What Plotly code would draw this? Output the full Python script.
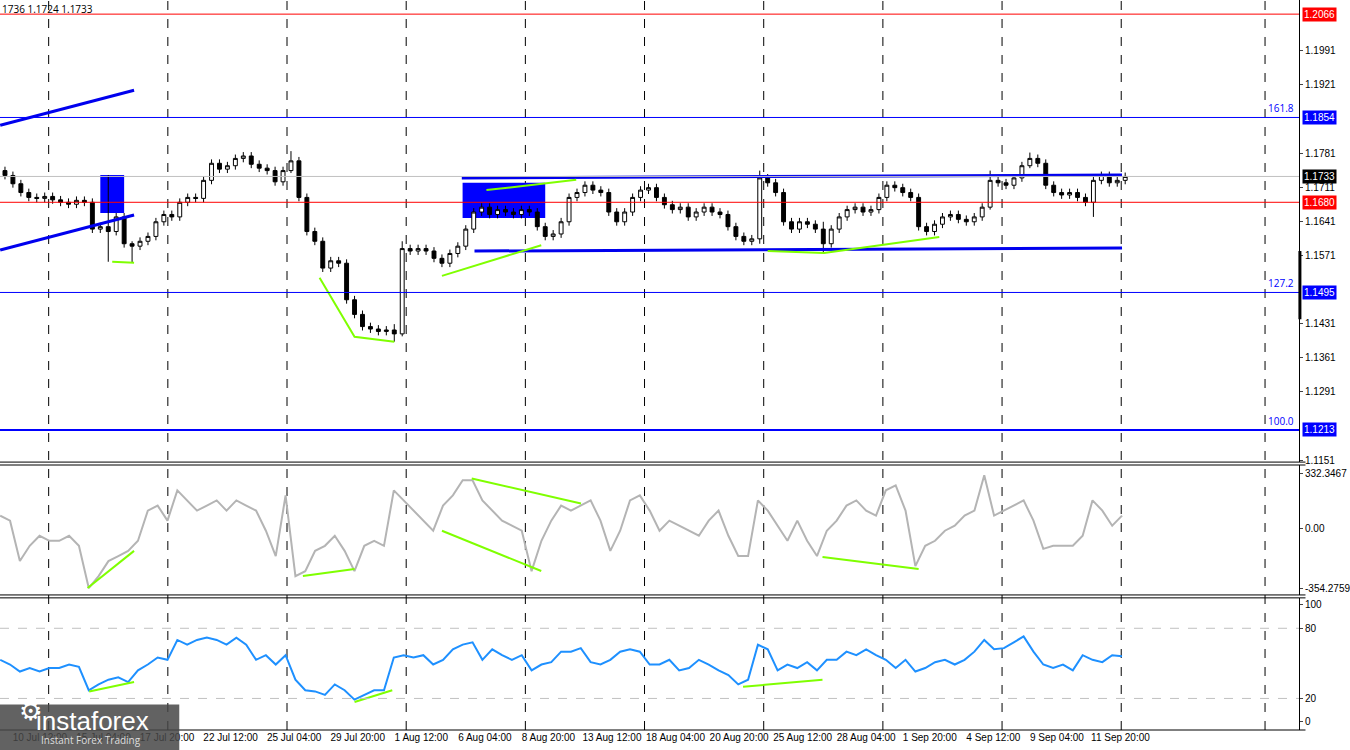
import numpy as np
import plotly.graph_objects as go
from plotly.subplots import make_subplots

# H8-ish candle closes, EURUSD 10 Jul - 12 Sep
closes = [1.1735, 1.1718, 1.1700, 1.1690, 1.1688, 1.1692, 1.1685, 1.1680, 1.1676, 1.1684,
          1.1680, 1.1625, 1.1630, 1.1620, 1.1650, 1.1595, 1.1590, 1.1600, 1.1610, 1.1640,
          1.1655, 1.1650, 1.1680, 1.1690, 1.1688, 1.1725, 1.1760, 1.1748, 1.1755, 1.1770,
          1.1775, 1.1758, 1.1750, 1.1745, 1.1722, 1.1745, 1.1765, 1.1690, 1.1620, 1.1600,
          1.1545, 1.1560, 1.1555, 1.1480, 1.1450, 1.1425, 1.1420, 1.1415, 1.1418, 1.1410,
          1.1585, 1.1580, 1.1585, 1.1580, 1.1565, 1.1555, 1.1575, 1.1590, 1.1625, 1.1660,
          1.1670, 1.1655, 1.1665, 1.1660, 1.1655, 1.1665, 1.1660, 1.1630, 1.1610, 1.1615,
          1.1640, 1.1690, 1.1700, 1.1715, 1.1705, 1.1700, 1.1660, 1.1640, 1.1660, 1.1690,
          1.1705, 1.1710, 1.1690, 1.1675, 1.1665, 1.1670, 1.1650, 1.1660, 1.1670, 1.1660,
          1.1655, 1.1630, 1.1610, 1.1600, 1.1605, 1.1730, 1.1720, 1.1700, 1.1640, 1.1625,
          1.1640, 1.1635, 1.1625, 1.1595, 1.1625, 1.1650, 1.1665, 1.1670, 1.1660, 1.1665,
          1.1690, 1.1715, 1.1710, 1.1700, 1.1690, 1.1630, 1.1620, 1.1635, 1.1650, 1.1655,
          1.1645, 1.1640, 1.1650, 1.1670, 1.1725, 1.1720, 1.1715, 1.1730, 1.1755, 1.1770,
          1.1760, 1.1715, 1.1700, 1.1695, 1.1700, 1.1690, 1.1680, 1.1725, 1.1735, 1.1720,
          1.1725, 1.1733]
first_open = 1.1745
# long wicks {candle: (high, low)}
wicks = {13: (1.1736, 1.1558), 16: (1.1600, 1.1556), 36: (1.1785, 1.1740), 49: (1.1430, 1.1394),
         50: (1.1600, 1.1405), 95: (1.1745, 1.1595), 103: (1.1640, 1.1576), 124: (1.1745, 1.1665),
         129: (1.1782, 1.1750), 137: (1.1735, 1.1650)}

cci = [78, 48, -193, -102, -42, -72, -72, -42, -102, -354, -283, -193, -163, -132, -72, 108,
       138, 48, 229, 169, 108, 138, 169, 108, 169, 138, 108, -12, -163, 199, -283, -253,
       -132, -102, -42, -132, -253, -102, -72, -102, 229, 169, 108, 48, -12, 138, 199, 289,
       289, 169, 108, 48, 18, -12, -253, -72, 48, 138, 108, 138, 169, 48, -132, -12, 169, 199,
       108, -12, 48, 18, -12, -42, 48, 108, -42, -163, -163, 169, 108, 18, -72, 48, -72, -163,
       -12, 48, 138, 169, 108, 78, 229, 259, 108, -223, -102, -72, -12, 18, 78, 108, 319, 78,
       108, 138, 169, 48, -120, -102, -102, -102, -42, 169, 108, 18, 78]
rsi = [53, 49, 43, 46, 43, 46, 46, 49, 47, 27, 32, 36, 38, 34, 44, 49, 55, 53, 70, 66, 70, 72,
       70, 66, 72, 66, 53, 57, 49, 57, 36, 27, 26, 23, 32, 27, 19, 23, 27, 27, 55, 57, 55, 57,
       49, 53, 62, 66, 68, 53, 62, 57, 53, 57, 44, 49, 51, 60, 60, 63, 51, 49, 53, 60, 62, 60,
       49, 49, 53, 44, 46, 53, 49, 44, 40, 32, 36, 66, 62, 44, 49, 46, 51, 44, 53, 53, 60, 57,
       62, 57, 53, 46, 53, 43, 46, 51, 53, 49, 53, 60, 70, 62, 63, 68, 73, 60, 49, 46, 49, 44,
       57, 53, 51, 57, 56]

date_labels = ["10 Jul 12:00", "15 Jul 04:00", "17 Jul 20:00", "22 Jul 12:00", "25 Jul 04:00",
               "29 Jul 20:00", "1 Aug 12:00", "6 Aug 04:00", "8 Aug 20:00", "13 Aug 12:00",
               "18 Aug 04:00", "20 Aug 20:00", "25 Aug 12:00", "28 Aug 04:00", "1 Sep 20:00",
               "4 Sep 12:00", "9 Sep 04:00", "11 Sep 20:00"]
date_pos = [4.4 + 8 * k for k in range(len(date_labels))]
grid_pos = [5.5, 20.5, 35.5, 50.5, 65.5, 80.5, 95.5, 110.5, 125.5, 140.5, 158.6]

price_ticks = [1.1991, 1.1921, 1.1781, 1.1711, 1.1641, 1.1571, 1.1431, 1.1361, 1.1291, 1.1151]
levels = [(1.2066, "red", 1, None), (1.1854, "blue", 1, "161.8"), (1.1733, "#c0c0c0", 1, None),
          (1.1680, "red", 1, None), (1.1495, "blue", 1, "127.2"), (1.1213, "blue", 2, "100.0")]
boxes = [(1.2066, "red"), (1.1854, "blue"), (1.1733, "black"),
         (1.1680, "red"), (1.1495, "blue"), (1.1213, "blue")]

green_price = [[(13.5, 1.1558), (16.25, 1.1556)], [(39.6, 1.1525), (44, 1.1404), (49, 1.1394)],
               [(55, 1.1529), (67.5, 1.1592)], [(60.6, 1.1705), (71.9, 1.1726)],
               [(96, 1.1580), (103.1, 1.1576), (117.6, 1.1609)]]
blue_price = [[(-0.6, 1.1838), (16.25, 1.1910)], [(-0.6, 1.1582), (16.25, 1.1654)],
              [(57.5, 1.1730), (140.6, 1.1736)], [(59.1, 1.1580), (140.6, 1.1586)]]
blue_rects = [(12, 15, 1.1658, 1.1736), (57.6, 68, 1.1648, 1.1720)]
green_cci = [[(10.4, -354), (16.25, -132)], [(37.5, -282), (44, -240)], [(55, -12), (67.5, -252)],
             [(58.75, 300), (72.5, 150)], [(102.9, -168), (115, -240)]]
green_rsi = [[(10.6, 26), (16.25, 34)], [(44, 17), (48.75, 27)], [(92.9, 30), (102.9, 36)]]

idx = list(range(len(closes)))
opens = [first_open] + closes[:-1]
highs = [max(o, c) + 0.0008 for o, c in zip(opens, closes)]
lows = [min(o, c) - 0.0008 for o, c in zip(opens, closes)]
for i, (h, l) in wicks.items():
    highs[i], lows[i] = h, l

fig = make_subplots(rows=3, cols=1, shared_xaxes=True)
fig.add_trace(go.Candlestick(x=idx, open=opens, high=highs, low=lows, close=closes,
                             increasing=dict(line=dict(color="black", width=1), fillcolor="white"),
                             decreasing=dict(line=dict(color="black", width=1), fillcolor="black"),
                             whiskerwidth=0, showlegend=False), row=1, col=1)

for x0, x1, y0, y1 in blue_rects:
    fig.add_shape(type="rect", x0=x0, x1=x1, y0=y0, y1=y1, fillcolor="#0000ff",
                  line=dict(width=0), layer="below", row=1, col=1)

for y, col, w, lab in levels:
    fig.add_shape(type="line", xref="paper", x0=0, x1=1, y0=y, y1=y, yref="y",
                  line=dict(color=col, width=w))
    if lab:
        fig.add_annotation(xref="paper", x=0.998, y=y, yref="y", text=lab, showarrow=False,
                           xanchor="right", yanchor="bottom", font=dict(color="blue", size=10))

for seg in blue_price:
    fig.add_trace(go.Scatter(x=[p[0] for p in seg], y=[p[1] for p in seg], mode="lines",
                             line=dict(color="#0000ee", width=3), showlegend=False), row=1, col=1)
for seg in green_price:
    fig.add_trace(go.Scatter(x=[p[0] for p in seg], y=[p[1] for p in seg], mode="lines",
                             line=dict(color="#7fff00", width=2), showlegend=False), row=1, col=1)

cci_x = np.linspace(-0.6, 140.6, len(cci))
rsi_x = np.linspace(-0.6, 140.6, len(rsi))
fig.add_trace(go.Scatter(x=cci_x, y=cci, mode="lines", line=dict(color="#b4b4b4", width=2),
                         showlegend=False), row=2, col=1)
for seg in green_cci:
    fig.add_trace(go.Scatter(x=[p[0] for p in seg], y=[p[1] for p in seg], mode="lines",
                             line=dict(color="#7fff00", width=2), showlegend=False), row=2, col=1)
fig.add_trace(go.Scatter(x=rsi_x, y=rsi, mode="lines", line=dict(color="#1e90ff", width=2),
                         showlegend=False), row=3, col=1)
for seg in green_rsi:
    fig.add_trace(go.Scatter(x=[p[0] for p in seg], y=[p[1] for p in seg], mode="lines",
                             line=dict(color="#7fff00", width=2), showlegend=False), row=3, col=1)

for lv in [80, 20]:
    fig.add_shape(type="line", xref="paper", x0=0, x1=1, y0=lv, y1=lv, yref="y3",
                  line=dict(color="#c0c0c0", width=1, dash="dash"))

for g in grid_pos:
    fig.add_shape(type="line", x0=g, x1=g, xref="x", yref="paper", y0=0, y1=1,
                  line=dict(color="black", width=1, dash="dash"), layer="below")

# pane separators (double lines)
for yp in [0.367, 0.363, 0.185, 0.181, 0.0]:
    fig.add_shape(type="line", xref="paper", yref="paper", x0=0, x1=1.005, y0=yp, y1=yp,
                  line=dict(color="black", width=1))

for y, bg in boxes:
    fig.add_annotation(xref="paper", x=1.002, y=y, yref="y", text="%.4f" % y,
                       showarrow=False, xanchor="left", bgcolor=bg, borderpad=1,
                       font=dict(color="white", size=10, family="Liberation Sans"))

fig.add_annotation(xref="paper", yref="paper", x=0, y=1, text="1736 1.1724 1.1733",
                   showarrow=False, xanchor="left", yanchor="top", font=dict(size=10, color="black"))
fig.add_shape(type="line", xref="paper", x0=1.0007, x1=1.0007, y0=1.1580, y1=1.1440, yref="y",
              line=dict(color="black", width=3))

# watermark
fig.add_shape(type="rect", xref="paper", yref="paper", x0=0, x1=0.138, y0=-0.03, y1=0.035,
              fillcolor="rgba(70,70,70,0.85)", line=dict(width=0))
fig.add_annotation(xref="paper", yref="paper", x=0.026, y=0.036, text="instaforex",
                   showarrow=False, xanchor="left", yanchor="top",
                   font=dict(size=26, color="white", family="Arial"))
fig.add_annotation(xref="paper", yref="paper", x=0.03, y=-0.002, text="Instant Forex Trading",
                   showarrow=False, xanchor="left", yanchor="top",
                   font=dict(size=10, color="#dddddd"))
fig.add_annotation(xref="paper", yref="paper", x=0.013, y=0.0, text="⚙", showarrow=False,
                   font=dict(size=26, color="white"))

tickfont = dict(size=10, color="black", family="Liberation Sans")
fig.update_xaxes(range=[-0.625, 162.875], showgrid=False, zeroline=False, rangeslider_visible=False,
                 showline=False, tickvals=date_pos, ticktext=date_labels, tickfont=tickfont,
                 tickangle=0)
fig.update_xaxes(showticklabels=False, row=1, col=1)
fig.update_xaxes(showticklabels=False, row=2, col=1)
fig.update_xaxes(showticklabels=True, ticks="", row=3, col=1)
fig.update_yaxes(side="right", showgrid=False, zeroline=False, ticks="outside", ticklen=3,
                 showline=True, linecolor="black", tickfont=tickfont)
fig.update_yaxes(range=[1.1147, 1.2095], tickvals=price_ticks, tickformat=".4f", row=1, col=1)
fig.update_yaxes(range=[-395, 380], tickvals=[332.3467, 0, -354.2759],
                 ticktext=["332.3467", "0.00", "-354.2759"], row=2, col=1)
fig.update_yaxes(range=[-7, 106], tickvals=[100, 80, 20, 0], row=3, col=1)
fig.update_layout(width=1350, height=750, margin=dict(l=0, r=42, t=0, b=20),
                  plot_bgcolor="white", paper_bgcolor="white",
                  yaxis=dict(domain=[0.367, 1]), yaxis2=dict(domain=[0.185, 0.363]),
                  yaxis3=dict(domain=[0, 0.181]))
fig.write_html("out.html", config={"displayModeBar": False},
               post_script="document.body.style.margin='0';")
